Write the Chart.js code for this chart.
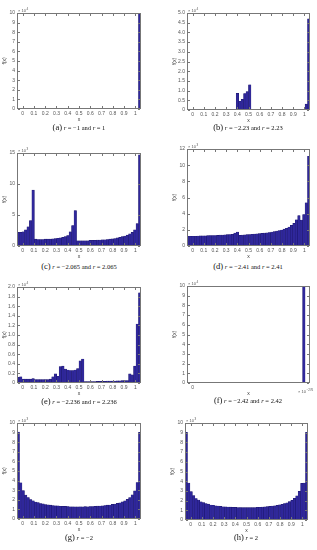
<!DOCTYPE html>
<html lang="en">
<head>
<meta charset="UTF-8">
<title>Histograms</title>
<script src="https://cdn.jsdelivr.net/npm/chart.js"></script>
<style>
    body { margin: 0; background: #fff; width: 317px; height: 550px; position: relative; overflow: hidden; }
    canvas { position: absolute; }
    .frame { position: absolute; border: 1px solid #777; box-sizing: border-box; pointer-events: none; }
    .cap {
        position: absolute;
        width: 160px;
        text-align: center;
        font-family: "Liberation Serif", serif;
        font-size: 6.5px;
        color: #111;
        white-space: nowrap;
    }
    .cap b { font-size: 8.5px; font-weight: normal; }
</style>
</head>
<body>

<canvas id="ca"></canvas>
<canvas id="cb"></canvas>
<canvas id="cc"></canvas>
<canvas id="cd"></canvas>
<canvas id="ce"></canvas>
<canvas id="cf"></canvas>
<canvas id="cg"></canvas>
<canvas id="ch"></canvas>

<div class="cap" style="left:-1px; top:122px;"><b>(a)</b> <i>r</i> = −1 and <i>r</i> = 1</div>
<div class="cap" style="left:168px; top:122px;"><b>(b)</b> <i>r</i> = −2.23 and <i>r</i> = 2.23</div>
<div class="cap" style="left:-1px; top:261px;"><b>(c)</b> <i>r</i> = −2.065 and <i>r</i> = 2.065</div>
<div class="cap" style="left:168px; top:261px;"><b>(d)</b> <i>r</i> = −2.41 and <i>r</i> = 2.41</div>
<div class="cap" style="left:-1px; top:396px;"><b>(e)</b> <i>r</i> = −2.236 and <i>r</i> = 2.236</div>
<div class="cap" style="left:168px; top:395px;"><b>(f)</b> <i>r</i> = −2.42 and <i>r</i> = 2.42</div>
<div class="cap" style="left:-1px; top:532px;"><b>(g)</b> <i>r</i> = −2</div>
<div class="cap" style="left:166px; top:532px;"><b>(h)</b> <i>r</i> = 2</div>

<script>
    // 50 bins on [0, 1], bin centres
    const bins = [0.01, 0.03, 0.05, 0.07, 0.09, 0.11, 0.13, 0.15, 0.17, 0.19,
                  0.21, 0.23, 0.25, 0.27, 0.29, 0.31, 0.33, 0.35, 0.37, 0.39,
                  0.41, 0.43, 0.45, 0.47, 0.49, 0.51, 0.53, 0.55, 0.57, 0.59,
                  0.61, 0.63, 0.65, 0.67, 0.69, 0.71, 0.73, 0.75, 0.77, 0.79,
                  0.81, 0.83, 0.85, 0.87, 0.89, 0.91, 0.93, 0.95, 0.97, 0.99];

    // counts (in units of the axis multiplier)
    const histA = [0, 0, 0, 0, 0, 0, 0, 0, 0, 0,
                   0, 0, 0, 0, 0, 0, 0, 0, 0, 0,
                   0, 0, 0, 0, 0, 0, 0, 0, 0, 0,
                   0, 0, 0, 0, 0, 0, 0, 0, 0, 0,
                   0, 0, 0, 0, 0, 0, 0, 0, 0, 10];
    const histB = [0, 0, 0, 0, 0, 0, 0, 0, 0, 0,
                   0, 0, 0, 0, 0, 0, 0, 0, 0, 0,
                   0.86, 0.45, 0.55, 0.85, 0.95, 1.3, 0, 0, 0, 0,
                   0, 0, 0, 0, 0, 0, 0, 0, 0, 0,
                   0, 0, 0, 0, 0, 0, 0, 0, 0.3, 4.7];
    const histC = [2.2, 2.2, 2.3, 2.6, 3.1, 4.1, 9.0, 1.1, 1.05, 1.05,
                   1.05, 1.1, 1.1, 1.1, 1.15, 1.2, 1.25, 1.3, 1.4, 1.5,
                   1.7, 2.3, 3.3, 5.7, 0.85, 0.85, 0.85, 0.85, 0.85, 0.9,
                   0.9, 0.9, 0.95, 0.95, 1.0, 1.0, 1.05, 1.1, 1.15, 1.2,
                   1.3, 1.4, 1.5, 1.6, 1.75, 1.95, 2.2, 2.6, 3.6, 14.7];
    const histD = [1.2, 1.2, 1.2, 1.2, 1.22, 1.25, 1.25, 1.25, 1.28, 1.3,
                   1.3, 1.3, 1.32, 1.35, 1.35, 1.37, 1.4, 1.42, 1.45, 1.6,
                   1.72, 1.32, 1.35, 1.38, 1.4, 1.42, 1.45, 1.48, 1.5, 1.53,
                   1.56, 1.6, 1.63, 1.67, 1.72, 1.78, 1.84, 1.9, 1.98, 2.08,
                   2.2, 2.35, 2.55, 2.8, 3.25, 3.75, 3.2, 3.9, 5.35, 11.1];
    const histE = [0.12, 0.13, 0.08, 0.08, 0.08, 0.08, 0.09, 0.07, 0.07, 0.07,
                   0.07, 0.07, 0.07, 0.08, 0.13, 0.19, 0.14, 0.34, 0.35, 0.29,
                   0.27, 0.26, 0.26, 0.27, 0.3, 0.46, 0.5, 0.03, 0.03, 0.03,
                   0.03, 0.03, 0.035, 0.035, 0.035, 0.035, 0.04, 0.04, 0.04, 0.04,
                   0.045, 0.045, 0.05, 0.05, 0.05, 0.19, 0.17, 0.35, 1.23, 1.88];
    const histF = [0, 0, 0, 0, 0, 0, 0, 0, 0, 0,
                   0, 0, 0, 0, 0, 0, 0, 0, 0, 0,
                   0, 0, 0, 0, 0, 0, 0, 0, 0, 0,
                   0, 0, 0, 0, 0, 0, 0, 0, 0, 0,
                   0, 0, 0, 0, 0, 0, 0, 10, 0, 0];
    const histG = [9.06, 3.78, 2.95, 2.49, 2.24, 2.03, 1.9, 1.77, 1.7, 1.61,
                   1.57, 1.5, 1.47, 1.44, 1.4, 1.38, 1.36, 1.33, 1.31, 1.31,
                   1.3, 1.28, 1.28, 1.27, 1.27, 1.28, 1.27, 1.29, 1.28, 1.3,
                   1.3, 1.32, 1.34, 1.35, 1.37, 1.41, 1.44, 1.46, 1.52, 1.55,
                   1.63, 1.68, 1.79, 1.88, 2.05, 2.22, 2.51, 2.93, 3.8, 9.02];
    const histH = [9.04, 3.8, 2.93, 2.51, 2.22, 2.05, 1.88, 1.79, 1.68, 1.63,
                   1.55, 1.52, 1.46, 1.44, 1.41, 1.37, 1.35, 1.34, 1.32, 1.3,
                   1.3, 1.28, 1.29, 1.27, 1.28, 1.27, 1.27, 1.28, 1.28, 1.31,
                   1.31, 1.33, 1.36, 1.38, 1.4, 1.44, 1.47, 1.5, 1.57, 1.61,
                   1.7, 1.77, 1.9, 2.03, 2.24, 2.49, 2.95, 3.78, 3.81, 9.05];

    const xTicks = [0, 0.1, 0.2, 0.3, 0.4, 0.5, 0.6, 0.7, 0.8, 0.9, 1];

    // plot box of each panel in page pixels
    const panels = [
        { id: 'ca', vals: histA, yMax: 10, yStep: 1,   exp: '4', L: 17,  R: 141, T: 13,  B: 109 },
        { id: 'cb', vals: histB, yMax: 5,  yStep: 0.5, exp: '4', L: 187, R: 310, T: 13,  B: 110 },
        { id: 'cc', vals: histC, yMax: 15, yStep: 5,   exp: '3', L: 17,  R: 141, T: 153, B: 246 },
        { id: 'cd', vals: histD, yMax: 12, yStep: 2,   exp: '3', L: 187, R: 310, T: 149, B: 246 },
        { id: 'ce', vals: histE, yMax: 2,  yStep: 0.2, exp: '4', L: 17,  R: 141, T: 287, B: 383 },
        { id: 'cf', vals: histF, yMax: 10, yStep: 1,   exp: '4', L: 187, R: 310, T: 286, B: 383, zeroOnly: true },
        { id: 'cg', vals: histG, yMax: 10, yStep: 1,   exp: '3', L: 17,  R: 141, T: 423, B: 519 },
        { id: 'ch', vals: histH, yMax: 10, yStep: 1,   exp: '3', L: 185, R: 308, T: 423, B: 520 }
    ];

    const FONT = '"Liberation Sans", Arial, sans-serif';
    const YW = 17, PADT = 13, PADR = 8, XH = 15;

    // inward ticks and the x10^n multiplier, matlab style
    const boxPlugin = {
        id: 'box',
        afterDraw(chart) {
            const opts = chart.config.options.plugins.box;
            const ctx = chart.ctx, a = chart.chartArea;
            const xs = chart.scales.xt, ys = chart.scales.y;
            const l = Math.round(a.left), r = Math.round(a.right) - 1;
            const t = Math.round(a.top), b = Math.round(a.bottom) - 1;
            ctx.save();
            ctx.fillStyle = '#777';
            if (!opts.zeroOnly) {
                xs.ticks.forEach(tk => {
                    const px = Math.round(xs.getPixelForValue(tk.value));
                    ctx.fillRect(px, b - 2, 1, 2);
                    ctx.fillRect(px, t + 1, 1, 2);
                });
            }
            ys.ticks.forEach(tk => {
                const py = Math.round(ys.getPixelForValue(tk.value));
                ctx.fillRect(l + 1, py, 2, 1);
                ctx.fillRect(r - 2, py, 2, 1);
            });

            ctx.fillStyle = '#555';
            ctx.textBaseline = 'alphabetic';
            ctx.font = '4px ' + FONT;
            ctx.fillText('× 10', a.left + 1, a.top - 1.5);
            ctx.font = '3px ' + FONT;
            ctx.fillText(opts.exp, a.left + 9.5, a.top - 3.5);
            if (opts.zeroOnly) {
                ctx.font = '4px ' + FONT;
                ctx.fillText('× 10', a.right - 12, a.bottom + 10);
                ctx.font = '3px ' + FONT;
                ctx.fillText('−276', a.right - 3.5, a.bottom + 8);
            }
            ctx.restore();
        }
    };

    panels.forEach(p => {
        const cv = document.getElementById(p.id);
        const left = p.L - YW, top = p.T - PADT;
        const w = p.R - p.L + YW + PADR, h = p.B - p.T + PADT + XH;
        cv.width = w; cv.height = h;
        cv.style.left = left + 'px';
        cv.style.top = top + 'px';
        cv.style.width = w + 'px';
        cv.style.height = h + 'px';

        // frame around the plot area, as a plain html box
        const fr = document.createElement('div');
        fr.className = 'frame';
        fr.style.left = p.L + 'px';
        fr.style.top = p.T + 'px';
        fr.style.width = (p.R - p.L) + 'px';
        fr.style.height = (p.B - p.T) + 'px';
        document.body.appendChild(fr);

        new Chart(cv.getContext('2d'), {
            type: 'bar',
            data: {
                labels: bins,
                datasets: [{
                    data: p.vals,
                    xAxisID: 'x',
                    yAxisID: 'y',
                    backgroundColor: '#2f279b',
                    borderColor: '#1b1566',
                    borderWidth: 0.4,
                    barPercentage: 1,
                    categoryPercentage: 1
                }]
            },
            options: {
                responsive: false,
                animation: false,
                devicePixelRatio: 1,
                layout: { padding: { left: 0, top: PADT, right: PADR, bottom: 0 } },
                plugins: {
                    legend: { display: false },
                    tooltip: { enabled: false },
                    box: { exp: p.exp, zeroOnly: !!p.zeroOnly }
                },
                scales: {
                    x: { type: 'category', display: false, offset: true },
                    xt: {
                        type: 'linear',
                        position: 'bottom',
                        min: 0, max: 1,
                        afterBuildTicks: s => { s.ticks = xTicks.map(v => ({ value: v })); },
                        afterFit: s => { s.height = XH; },
                        grid: { display: false, drawTicks: false },
                        border: { display: false },
                        ticks: {
                            autoSkip: false, maxRotation: 0, padding: 2,
                            color: '#555', font: { family: FONT, size: 5 },
                            callback: v => (p.zeroOnly && v !== 0) ? '' : String(v)
                        },
                        title: {
                            display: true, text: 'x', color: '#333',
                            font: { family: FONT, size: 5 }, padding: { top: 0, bottom: 1 }
                        }
                    },
                    y: {
                        min: 0, max: p.yMax,
                        afterFit: s => { s.width = YW; },
                        grid: { display: false, drawTicks: false },
                        border: { display: false },
                        ticks: {
                            stepSize: p.yStep, padding: 2,
                            color: '#555', font: { family: FONT, size: 5 }
                        },
                        title: {
                            display: true, text: 'f(x)', color: '#333',
                            font: { family: FONT, size: 5 }, padding: { top: 2, bottom: 0 }
                        }
                    }
                }
            },
            plugins: [boxPlugin]
        });
    });
</script>
</body>
</html>
